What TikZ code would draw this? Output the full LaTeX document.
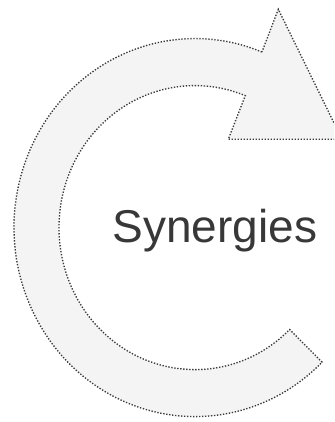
\documentclass[tikz,border=0pt]{standalone}
\usepackage{fontspec}
\setmainfont{Liberation Sans}
\definecolor{ringfill}{HTML}{F4F4F4}
\definecolor{ringline}{HTML}{3A3A3A}
\definecolor{txt}{HTML}{383838}
\begin{document}
\begin{tikzpicture}[x=1pt,y=1pt,
  ring/.style={fill=ringfill,draw=ringline,line width=1.35pt,dash pattern=on 1.35pt off 1.65pt},
  label/.style={text=txt,font=\fontsize{46pt}{50pt}\selectfont,inner sep=0pt,anchor=base}]
\useasboundingbox (0,0) rectangle (334,422);
\clip (0,0) rectangle (334,422);
\coordinate (tip) at (278.3,412.7);
\coordinate (hl) at (228.3,282.7);
\coordinate (hr) at (342,282.7);
\begin{scope}[shift={(195,194.4)}]
\coordinate (oe) at (68.3:181pt and 189pt);
\coordinate (it) at (314.1:136pt and 142pt);
\end{scope}
\draw[ring] (oe) arc[start angle=68.3,end angle=314.6,x radius=181pt,y radius=189pt]
  -- (it) arc[start angle=314.1,end angle=68.3,x radius=136pt,y radius=142pt]
  -- (hl) -- (hr) -- (tip) -- cycle;
\node[label] (t) at (215,179) {Synergies};
\end{tikzpicture}
\end{document}
